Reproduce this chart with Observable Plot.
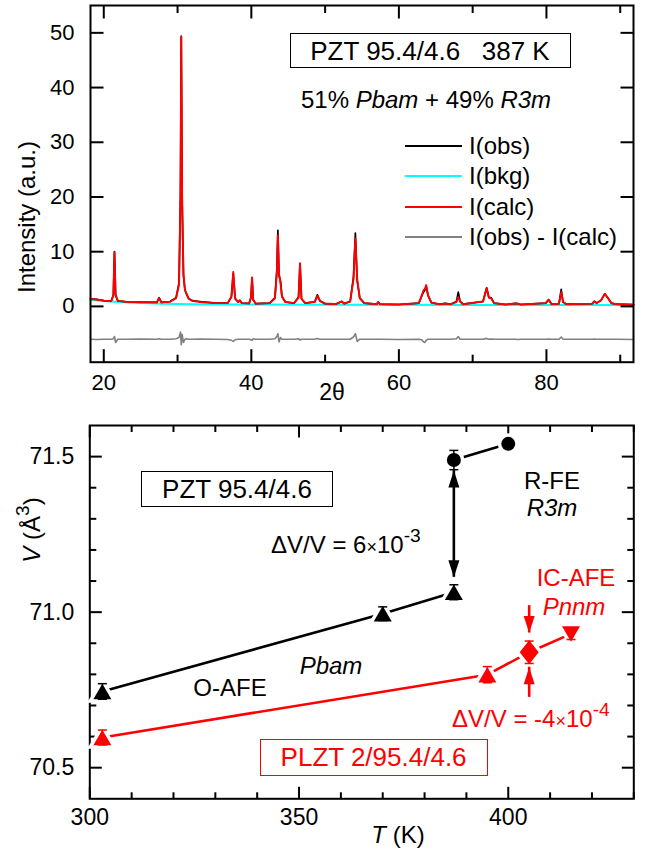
<!DOCTYPE html>
<html><head><meta charset="utf-8">
<script src="https://cdn.jsdelivr.net/npm/d3@7"></script>
<script src="https://cdn.jsdelivr.net/npm/@observablehq/plot@0.6"></script>
<style>
body{margin:0;background:#fff;font-family:"Liberation Sans",Arial,sans-serif;}
#wrap{position:relative;width:646px;height:853px;overflow:hidden;background:#fff;}
#wrap svg{position:absolute;left:0;}
.t{position:absolute;white-space:nowrap;line-height:1;color:#000;transform:translate(-50%,-50%);}
.l{position:absolute;white-space:nowrap;line-height:1;color:#000;transform:translate(0,-50%);}
.box{position:absolute;border:1.5px solid #000;box-sizing:border-box;display:flex;align-items:center;justify-content:center;white-space:pre;line-height:1;}
.sup{font-size:0.8em;position:relative;top:-0.55em;}
.lg{position:absolute;height:2px;}
</style></head><body><div id="wrap"></div>
<script>
// ---------- Top panel: XRD pattern of PZT 95.4/4.6 at 387 K ----------
const twoTheta = [18.2,19.0,20.0,21.0,21.3,21.45,21.6,21.9,23.0,25.0,27.2,27.5,27.8,29.0,29.8,30.2,30.4,30.5,30.62,30.8,31.0,31.2,31.5,32.0,33.0,35.0,36.8,37.3,37.55,37.8,38.2,38.45,38.7,39.7,39.95,40.1,40.25,40.6,42.5,43.2,43.45,43.6,43.75,43.95,44.15,44.6,45.8,46.4,46.6,46.8,47.3,48.6,48.95,49.3,50.0,51.5,52.25,52.6,53.4,53.85,54.1,54.35,54.7,55.3,57.0,57.2,57.45,60.0,62.7,63.1,63.35,63.5,63.7,63.95,64.4,65.5,66.3,67.0,67.8,68.05,68.3,68.7,71.4,71.9,72.2,72.5,72.9,74.5,75.8,76.1,76.5,79.9,80.3,80.7,81.7,82.0,82.25,82.7,86.2,86.5,86.8,87.4,87.9,88.3,88.8,89.5,91.8];
const iCalc = [1.35,1.25,1.05,0.95,2.0,9.9,2.2,1.0,0.85,0.75,0.75,1.5,0.75,0.85,1.5,4.0,20,49.3,20,6,3.0,2.3,1.4,1.0,0.8,0.6,0.6,1.8,6.3,1.5,0.8,1.1,0.6,0.55,1.6,5.3,1.2,0.5,0.6,1.5,6,13.0,6,4.3,1.8,0.8,0.6,1.6,7.9,1.4,0.6,0.8,1.9,1.0,0.5,0.45,0.9,0.5,0.9,5,12.4,5,1.5,0.6,0.4,0.8,0.4,0.35,0.6,2.0,3.0,3.1,3.9,2.0,0.7,0.4,0.5,0.4,0.8,1.7,0.9,0.4,0.9,3.3,1.6,1.5,0.6,0.35,0.55,0.5,0.35,0.6,1.2,0.4,0.5,2.6,0.8,0.4,0.5,0.9,0.6,1.1,2.3,1.6,0.6,0.4,0.3];
const iObs = [1.40,1.30,1.05,0.95,2.1,10.0,2.0,1.0,0.85,0.78,0.75,1.6,0.75,0.9,1.6,4.3,21,49.4,19,5.6,3.0,2.4,1.45,1.05,0.9,0.65,0.6,1.7,6.0,1.4,0.8,1.1,0.6,0.55,1.6,5.2,1.2,0.5,0.6,1.6,6.5,13.9,5.6,4.7,1.8,0.8,0.6,1.7,7.8,1.4,0.6,0.85,2.1,1.0,0.5,0.45,0.9,0.5,0.9,5.4,13.4,4.6,1.5,0.6,0.4,0.8,0.4,0.35,0.6,1.9,2.7,2.9,3.7,2.0,0.7,0.4,0.55,0.4,0.9,2.6,0.9,0.4,0.9,3.4,1.6,1.6,0.6,0.35,0.55,0.5,0.35,0.6,1.25,0.4,0.5,3.1,0.8,0.4,0.5,0.95,0.6,1.1,2.3,1.6,0.6,0.4,0.35];
const iDiff = [-6.0,-6.05,-6.0,-6.0,-5.9,-5.5,-6.6,-6.0,-6.0,-5.95,-6.0,-5.9,-6.0,-6.0,-5.9,-5.7,-4.7,-7.0,-5.1,-6.6,-6.0,-5.9,-6.0,-6.0,-5.95,-6.0,-6.05,-6.2,-6.4,-6.1,-6.0,-6.0,-6.0,-6.0,-6.1,-6.2,-5.9,-6.0,-6.0,-5.9,-5.5,-5.0,-6.5,-5.7,-6.0,-6.0,-6.0,-5.9,-6.15,-6.0,-6.0,-6.0,-5.85,-6.0,-6.0,-6.0,-6.0,-6.0,-6.0,-5.6,-5.0,-6.4,-6.0,-6.0,-6.0,-6.0,-6.0,-6.05,-6.0,-6.1,-6.5,-6.6,-6.2,-6.0,-6.0,-6.0,-6.0,-6.0,-5.9,-5.5,-6.0,-6.0,-6.0,-5.85,-6.0,-5.95,-6.0,-6.0,-6.0,-6.05,-6.0,-6.0,-5.95,-6.0,-6.0,-5.6,-6.0,-6.0,-6.0,-5.95,-6.0,-6.0,-6.0,-6.0,-6.0,-6.0,-6.05];
const bkgTheta = [18.2,20,22,25,28,32,40,50,60,70,80,91.8];
const iBkg = [1.2,1.0,0.8,0.6,0.5,0.4,0.33,0.3,0.28,0.27,0.26,0.25];
const xrdXTicks = [20,30,40,50,60,70,80,90];
const xrdXLabels = [20,40,60,80];
const xrdYTicks = [0,10,20,30,40,50];

// ---------- Bottom panel: cell volume vs temperature ----------
const pztT = [303, 370, 387];            // O-AFE (Pbam), triangles
const pztV = [70.745, 70.995, 71.064];
const pztErr = [0.025, 0.022, 0.024];
const pztRT = [387, 400];                // R-FE (R3m), circles
const pztRV = [71.489, 71.541];
const pztRErr = [0.031, 0.010];
const plztT = [303, 395, 405, 415];      // PLZT 2/95.4/4.6
const plztV = [70.597, 70.799, 70.871, 70.930];
const plztErr = [0.024, 0.026, 0.036, 0.018];
const plztShape = ["up", "up", "diamond", "down"];
const jumpT = [387];                     // ΔV arrow for PZT
const jumpFrom = [71.112];
const jumpTo = [71.455];
const plztArrowT = [405, 405];           // arrows marking the PLZT transition
const plztArrowStart = [71.021, 70.726];
const plztArrowTip = [70.933, 70.823];
const volXTicks = [300,310,320,330,340,350,360,370,380,390,400,410,420,430];
const volXLabels = [300,350,400];
const volYTicks = [70.5,70.6,70.7,70.8,70.9,71.0,71.1,71.2,71.3,71.4,71.5];
const volYLabels = [70.5,71.0,71.5];

// ---------- helpers: custom symbols (pixel-sized glyphs) ----------
const seg = (dx, dy) => ({draw(c){ c.moveTo(0,0); c.lineTo(dx,dy); }});
const capSym = {draw(c){ c.moveTo(-4.5,0); c.lineTo(4.5,0); }};
const headUp = {draw(c){ c.moveTo(0,0); c.lineTo(5.5,17); c.lineTo(-5.5,17); c.closePath(); }};
const headDown = {draw(c){ c.moveTo(0,0); c.lineTo(5.5,-17); c.lineTo(-5.5,-17); c.closePath(); }};
const triUp = {draw(c){ c.moveTo(0,-7.8); c.lineTo(9,7.8); c.lineTo(-9,7.8); c.closePath(); }};
const triDown = {draw(c){ c.moveTo(0,7.8); c.lineTo(9,-7.8); c.lineTo(-9,-7.8); c.closePath(); }};
const diamondSym = {draw(c){ c.moveTo(0,-12); c.lineTo(9.5,0); c.lineTo(0,12); c.lineTo(-9.5,0); c.closePath(); }};

const isMajor = (v, step) => Math.abs(v/step - Math.round(v/step)) < 1e-6;
function frameTicks(xt, yt, xMajStep, yMajStep, majLen, minLen, yMinLen) {
  const xMaj = xt.filter(v => isMajor(v, xMajStep)), xMin = xt.filter(v => !isMajor(v, xMajStep));
  const yMaj = yt.filter(v => isMajor(v, yMajStep)), yMin = yt.filter(v => !isMajor(v, yMajStep));
  const o = {stroke: "black", strokeWidth: 2, fill: "none"};
  return [
    Plot.dot(xMaj, {x: d => d, frameAnchor: "bottom", symbol: seg(0, -majLen), ...o}),
    Plot.dot(xMin, {x: d => d, frameAnchor: "bottom", symbol: seg(0, -minLen), ...o}),
    Plot.dot(xMaj, {x: d => d, frameAnchor: "top", symbol: seg(0, majLen), ...o}),
    Plot.dot(xMin, {x: d => d, frameAnchor: "top", symbol: seg(0, minLen), ...o}),
    Plot.dot(yMaj, {y: d => d, frameAnchor: "left", symbol: seg(majLen, 0), ...o}),
    Plot.dot(yMin, {y: d => d, frameAnchor: "left", symbol: seg(yMinLen, 0), ...o}),
    Plot.dot(yMaj, {y: d => d, frameAnchor: "right", symbol: seg(-majLen, 0), ...o}),
    Plot.dot(yMin, {y: d => d, frameAnchor: "right", symbol: seg(-yMinLen, 0), ...o})
  ];
}

const FONT = '"Liberation Sans", Arial, sans-serif';
const wrap = document.getElementById("wrap");

// ---------- top plot ----------
const xrdRows = twoTheta.map((t, i) => ({t, calc: iCalc[i], obs: iObs[i], diff: iDiff[i]}));
const bkgRows = bkgTheta.map((t, i) => ({t, b: iBkg[i]}));
const topPlot = Plot.plot({
  width: 646, height: 405,
  marginLeft: 90, marginRight: 13, marginTop: 5, marginBottom: 43.3,
  x: {domain: [18.2, 91.8]},
  y: {domain: [-10.2, 55]},
  style: {fontFamily: FONT, fontSize: "22px", color: "black", background: "transparent", overflow: "visible"},
  marks: [
    Plot.line(bkgRows, {x: "t", y: "b", stroke: "#00ffff", strokeWidth: 2}),
    Plot.line(xrdRows, {x: "t", y: "obs", stroke: "black", strokeWidth: 1.7}),
    Plot.line(xrdRows, {x: "t", y: "calc", stroke: "#ff0000", strokeWidth: 1.9}),
    Plot.line(xrdRows, {x: "t", y: "diff", stroke: "#808080", strokeWidth: 1.6}),
    Plot.frame({stroke: "black", strokeWidth: 2}),
    ...frameTicks(xrdXTicks, xrdYTicks, 20, 10, 13, 7.5, 7),
    Plot.axisX(xrdXLabels, {anchor: "bottom", tickSize: 0, tickPadding: 12, label: null}),
    Plot.axisY(xrdYTicks, {anchor: "left", tickSize: 0, tickPadding: 16, label: null})
  ]
});
topPlot.style.top = "0px";
wrap.appendChild(topPlot);

// ---------- bottom plot ----------
const pztRows = pztT.map((T, i) => ({T, V: pztV[i], e: pztErr[i]}));
const pztRRows = pztRT.map((T, i) => ({T, V: pztRV[i], e: pztRErr[i]}));
const plztRows = plztT.map((T, i) => ({T, V: plztV[i], e: plztErr[i], s: plztShape[i]}));
const jumpRows = jumpT.map((T, i) => ({T, a: jumpFrom[i], b: jumpTo[i]}));
const arrRows = plztArrowT.map((T, i) => ({T, a: plztArrowStart[i], b: plztArrowTip[i]}));
const halo = {stroke: "white", strokeWidth: 7, paintOrder: "stroke"};
function errBars(rows, color) {
  return [
    Plot.ruleX(rows, {x: "T", y1: d => d.V - d.e, y2: d => d.V + d.e, stroke: color, strokeWidth: 1.5}),
    Plot.dot(rows, {x: "T", y: d => d.V + d.e, symbol: capSym, stroke: color, strokeWidth: 1.5, fill: "none"}),
    Plot.dot(rows, {x: "T", y: d => d.V - d.e, symbol: capSym, stroke: color, strokeWidth: 1.5, fill: "none"})
  ];
}
const botPlot = Plot.plot({
  width: 646, height: 448,
  marginLeft: 89.3, marginRight: 12.7, marginTop: 20, marginBottom: 54.7,
  x: {domain: [300, 430]},
  y: {domain: [70.4, 71.6]},
  style: {fontFamily: FONT, fontSize: "23px", color: "black", background: "transparent", overflow: "visible"},
  marks: [
    Plot.frame({stroke: "black", strokeWidth: 2}),
    ...frameTicks(volXTicks, volYTicks.map(v => Math.round(v * 10) / 10), 50, 0.5, 12, 6.5, 6.5),
    Plot.axisX(volXLabels, {anchor: "bottom", tickSize: 0, tickPadding: 10, label: null}),
    Plot.axisY(volYLabels, {anchor: "left", tickSize: 0, tickPadding: 15.5, label: null, tickFormat: d => d.toFixed(1)}),
    Plot.line(pztRows, {x: "T", y: "V", stroke: "black", strokeWidth: 2.6}),
    Plot.line(pztRRows, {x: "T", y: "V", stroke: "black", strokeWidth: 2.6}),
    Plot.line(plztRows, {x: "T", y: "V", stroke: "#ff0000", strokeWidth: 2.6}),
    Plot.dot(pztRows, {x: "T", y: "V", symbol: triUp, fill: "black", ...halo}),
    Plot.dot(pztRRows, {x: "T", y: "V", symbol: "circle", r: 7, fill: "black", ...halo}),
    Plot.dot(plztRows, {filter: d => d.s === "up", x: "T", y: "V", symbol: triUp, fill: "#ff0000", ...halo}),
    Plot.dot(plztRows, {filter: d => d.s === "down", x: "T", y: "V", symbol: triDown, fill: "#ff0000", ...halo}),
    Plot.dot(plztRows, {filter: d => d.s === "diamond", x: "T", y: "V", symbol: diamondSym, fill: "#ff0000", ...halo}),
    ...errBars(pztRows, "black"),
    ...errBars(pztRRows, "black"),
    ...errBars(plztRows, "#ff0000"),
    Plot.ruleX(jumpRows, {x: "T", y1: "a", y2: "b", stroke: "black", strokeWidth: 2.6}),
    Plot.dot(jumpRows, {x: "T", y: "b", symbol: headUp, fill: "black", stroke: "none"}),
    Plot.dot(jumpRows, {x: "T", y: "a", symbol: headDown, fill: "black", stroke: "none"}),
    Plot.ruleX(arrRows, {x: "T", y1: "a", y2: "b", stroke: "#ff0000", strokeWidth: 2.6}),
    Plot.dot(arrRows, {filter: d => d.b < d.a, x: "T", y: "b", symbol: headDown, fill: "#ff0000", stroke: "none"}),
    Plot.dot(arrRows, {filter: d => d.b > d.a, x: "T", y: "b", symbol: headUp, fill: "#ff0000", stroke: "none"})
  ]
});
botPlot.style.top = "405px";
wrap.appendChild(botPlot);

// ---------- text annotations ----------
function add(html, cls, left, top, extra) {
  const d = document.createElement("div");
  d.className = cls;
  d.innerHTML = html;
  d.style.left = left + "px";
  d.style.top = top + "px";
  if (extra) Object.assign(d.style, extra);
  wrap.appendChild(d);
  return d;
}
function box(text, left, top, w, h, color, size) {
  return add(text, "box", left, top, {width: w + "px", height: h + "px", fontSize: size + "px", color, borderColor: color});
}
// top panel
add("Intensity (a.u.)", "t", 27, 217, {fontSize: "24px", transform: "translate(-50%,-50%) rotate(-90deg)"});
add("2θ", "t", 332, 392, {fontSize: "23px"});
box("PZT 95.4/4.6   387 K", 289.5, 33, 281, 35, "#000", 26);
add("51% <i>Pbam</i> + 49% <i>R3m</i>", "t", 426, 100, {fontSize: "24px"});
const legendItems = ["I(obs)", "I(bkg)", "I(calc)", "I(obs) - I(calc)"];
const legendColors = ["#000000", "#00ffff", "#ff0000", "#808080"];
const legendRows = [146, 176, 207, 237];
legendItems.forEach((s, i) => {
  add("", "lg", 405, legendRows[i] - 1, {width: "57px", background: legendColors[i]});
  add(s, "l", 469, legendRows[i], {fontSize: "24px"});
});
// bottom panel
add("<i>V</i> (Å<span class='sup'>3</span>)", "t", 32, 530, {fontSize: "24px", transform: "translate(-50%,-50%) rotate(-90deg)"});
add("<i>T</i> (K)", "t", 398, 835, {fontSize: "24px"});
box("PZT 95.4/4.6", 141, 471, 192, 36, "#000", 26);
add("R-FE", "t", 552, 481, {fontSize: "24px"});
add("<i>R3m</i>", "t", 552, 508, {fontSize: "24px"});
add("ΔV/V = 6<span style='font-size:0.75em'>×</span>10<span class='sup'>-3</span>", "l", 271, 545, {fontSize: "24px"});
add("IC-AFE", "t", 576, 578, {fontSize: "24px", color: "#ff0000"});
add("<i>Pnnm</i>", "t", 574, 607, {fontSize: "24px", color: "#ff0000"});
add("<i>Pbam</i>", "t", 331, 666, {fontSize: "24px"});
add("O-AFE", "t", 230, 688, {fontSize: "24px"});
add("ΔV/V = -4<span style='font-size:0.75em'>×</span>10<span class='sup'>-4</span>", "l", 452, 719, {fontSize: "24px", color: "#ff0000"});
box("PLZT 2/95.4/4.6", 259.6, 739.3, 228, 36.4, "#ff0000", 26);
</script></body></html>
